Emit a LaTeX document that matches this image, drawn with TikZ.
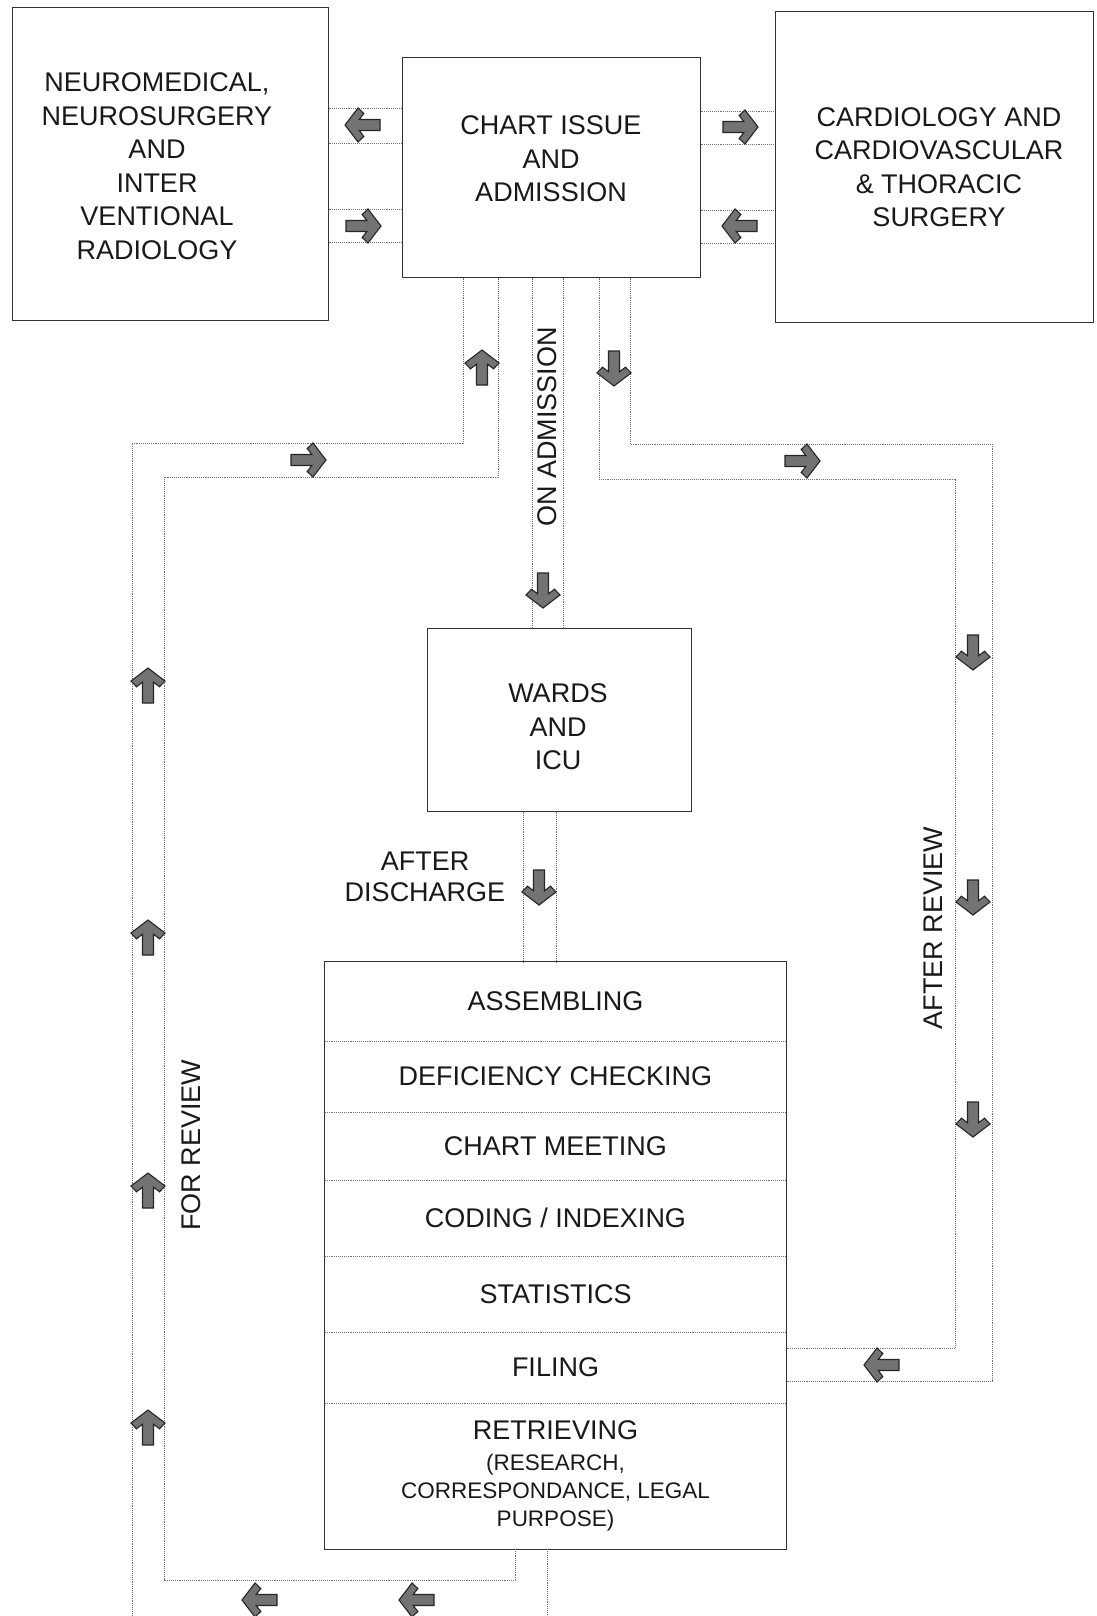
\documentclass[tikz,border=0pt]{standalone}
\usepackage{fontspec}
\setmainfont{Liberation Sans}
\newcommand\smallfnt{\fontsize{22.5}{27.5}\selectfont}
\begin{document}
\begin{tikzpicture}[x=1pt,y=-1pt,
  box/.style={draw=black!80, line width=1pt, inner sep=0pt},
  txt/.style={align=center, font=\fontsize{27}{33.5}\selectfont, text=black!90, inner sep=0pt},
  row/.style={txt, minimum width=461pt, inner sep=0pt},
  chan/.style={draw=black!55, densely dotted, line width=0.9pt},
  div/.style={draw=black!55, densely dotted, line width=0.9pt},
  barrow/.pic={\filldraw[fill=black!55, draw=black!85, line width=1.1pt, line join=miter]
     (18,0) -- (5,17) -- (-0.8,11.5) -- (3.8,5.5) -- (-17,5.5) -- (-17,-5.5) -- (3.8,-5.5) -- (-0.8,-11.5) -- (5,-17) -- cycle;}]
\useasboundingbox (0,0) rectangle (1096,1616);
\fill[white] (0,0) rectangle (1096,1616);

% boxes
\node[box, minimum width=316pt, minimum height=312pt] (left) at (170,164) {};
\node[txt] (lefttxt) at (157,166) {NEUROMEDICAL,\\NEUROSURGERY\\AND\\INTER\\VENTIONAL\\RADIOLOGY};
\node[box, minimum width=298pt, minimum height=219pt] (chart) at (551,167.5) {};
\node[txt] (charttxt) at (551,159) {CHART ISSUE\\AND\\ADMISSION};
\node[box, minimum width=318pt, minimum height=310pt] (right) at (934,167) {};
\node[txt] (righttxt) at (939,167) {CARDIOLOGY AND\\CARDIOVASCULAR\\\& THORACIC\\SURGERY};
\node[box, minimum width=264pt, minimum height=183pt] (wards) at (559,719.5) {};
\node[txt] (wardstxt) at (558,727) {WARDS\\AND\\ICU};

% process rows
\node[row, minimum height=79pt] (r1) at (555.5,1001.5) {ASSEMBLING};
\node[row, minimum height=71pt] (r2) at (555.5,1076.5) {DEFICIENCY CHECKING};
\node[row, minimum height=68pt] (r3) at (555.5,1146) {CHART MEETING};
\node[row, minimum height=76pt] (r4) at (555.5,1218) {CODING / INDEXING};
\node[row, minimum height=76pt] (r5) at (555.5,1294) {STATISTICS};
\node[row, minimum height=71pt] (r6) at (555.5,1367.5) {FILING};
\node[row, minimum height=146pt, font=\fontsize{27}{31}\selectfont] (r7) at (555.5,1476) {RETRIEVING\\{\smallfnt (RESEARCH,}\\[-3pt]{\smallfnt CORRESPONDANCE, LEGAL}\\[-3pt]{\smallfnt PURPOSE)}};
\draw[box] (r1.north west) rectangle (r7.south east);
\foreach \r in {r1,r2,r3,r4,r5,r6}{\draw[div] (\r.south west) -- (\r.south east);}

% labels
\node[txt, rotate=90] (onadm) at (547,427) {ON ADMISSION};
\node[txt, font=\fontsize{27}{31}\selectfont] (afterdis) at (425,877) {AFTER\\DISCHARGE};
\node[txt, rotate=90] (forrev) at (191,1145) {FOR REVIEW};
\node[txt, rotate=90] (aftrev) at (933,928) {AFTER REVIEW};

% channels left <-> chart
\draw[chan] (left.east |- 0,108) -- (chart.west |- 0,108);
\draw[chan] (left.east |- 0,143) -- (chart.west |- 0,143);
\draw[chan] (left.east |- 0,209) -- (chart.west |- 0,209);
\draw[chan] (left.east |- 0,242) -- (chart.west |- 0,242);
% channels chart <-> right
\draw[chan] (chart.east |- 0,111) -- (right.west |- 0,111);
\draw[chan] (chart.east |- 0,144) -- (right.west |- 0,144);
\draw[chan] (chart.east |- 0,210) -- (right.west |- 0,210);
\draw[chan] (chart.east |- 0,243) -- (right.west |- 0,243);

% on admission
\draw[chan] (chart.south -| 532,0) -- (wards.north -| 532,0);
\draw[chan] (chart.south -| 563,0) -- (wards.north -| 563,0);
% after discharge
\draw[chan] (wards.south -| 523,0) -- (r1.north -| 523,0);
\draw[chan] (wards.south -| 556,0) -- (r1.north -| 556,0);

% for review return (left)
\coordinate (pageL) at (132,1616);
\coordinate (pageB) at (547,1616);
\draw[chan] (chart.south -| 463,0) -- (463,443) -- (132,443) -- (pageL);
\draw[chan] (chart.south -| 498,0) -- (498,477) -- (164,477) -- (164,1580) -- (515,1580) -- (r7.south -| 515,0);
\draw[chan] (r7.south -| 547,0) -- (pageB);

% after review return (right)
\draw[chan] (chart.south -| 599,0) -- (599,479) -- (955,479) -- (955,1348) -- (r6.east |- 0,1348);
\draw[chan] (chart.south -| 630,0) -- (630,444) -- (992,444) -- (992,1381) -- (r6.east |- 0,1381);

% arrows
\pic[rotate=180] at (363,125) {barrow};
\pic at (363,226) {barrow};
\pic at (740,127) {barrow};
\pic[rotate=180] at (740,226) {barrow};
\pic[rotate=90] at (482,368) {barrow};
\pic[rotate=-90] at (614,368) {barrow};
\pic at (308,460) {barrow};
\pic at (802,461) {barrow};
\pic[rotate=-90] at (543,590) {barrow};
\pic[rotate=-90] at (539,887) {barrow};
\pic[rotate=-90] at (973,652) {barrow};
\pic[rotate=-90] at (973,897) {barrow};
\pic[rotate=-90] at (973,1119) {barrow};
\pic[rotate=180] at (882,1365) {barrow};
\pic[rotate=90] at (148,686) {barrow};
\pic[rotate=90] at (148,938) {barrow};
\pic[rotate=90] at (148,1191) {barrow};
\pic[rotate=90] at (148,1428) {barrow};
\pic[rotate=180] at (260,1600) {barrow};
\pic[rotate=180] at (417,1600) {barrow};
\end{tikzpicture}
\end{document}
